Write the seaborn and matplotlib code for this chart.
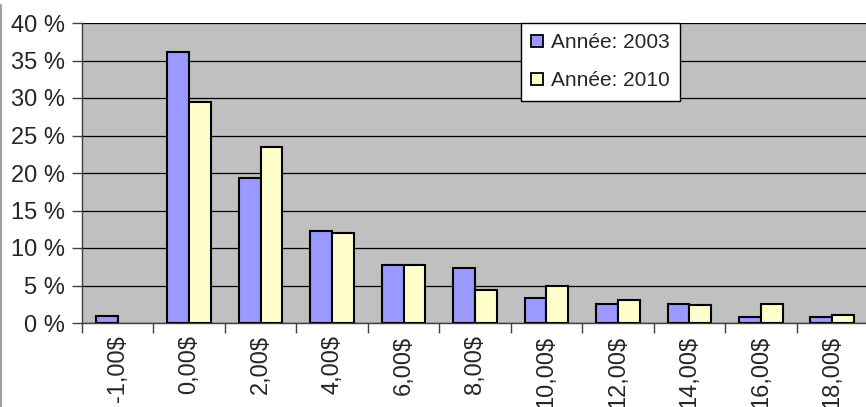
import numpy as np
import pandas as pd
import seaborn as sns
from matplotlib import pyplot as plt
from matplotlib.lines import Line2D
from matplotlib.ticker import FixedLocator, FuncFormatter

# Chart data (percent of respondents per price bucket)
categories = ["-1,00$", "0,00$", "2,00$", "4,00$", "6,00$", "8,00$",
              "10,00$", "12,00$", "14,00$", "16,00$", "18,00$"]
values_2003 = [1.0, 36.1, 19.3, 12.3, 7.8, 7.3, 3.4, 2.6, 2.6, 0.75, 0.75]
values_2010 = [0.0, 29.5, 23.5, 12.0, 7.8, 4.4, 5.0, 3.1, 2.35, 2.6, 1.05]
series_names = ["Année: 2003", "Année: 2010"]
y_ticks = [0, 5, 10, 15, 20, 25, 30, 35, 40]

df = pd.DataFrame({
    "cat": categories * 2,
    "val": values_2003 + values_2010,
    "serie": [series_names[0]] * len(categories) + [series_names[1]] * len(categories),
})

sns.set_style("white")
plt.rcParams['font.family'] = ['Liberation Sans', 'DejaVu Sans']

fig = plt.figure(figsize=(8.66, 4.07), dpi=100)
ax = fig.add_axes([82 / 866, (407 - 323) / 407, 786 / 866, 300 / 407])
ax.set_facecolor("#C0C0C0")

sns.barplot(data=df, x="cat", y="val", hue="serie", order=categories,
            hue_order=series_names, palette=["#9999FF", "#FFFFCC"],
            width=0.61, gap=0, edgecolor="black", linewidth=1.5,
            saturation=1, ax=ax, zorder=3)

# Excel draws nothing for an empty bar
for p in ax.patches:
    if p.get_height() == 0:
        p.set_linewidth(0)

ax.set_xlim(-0.5, len(categories) - 0.5)
ax.set_ylim(0, 40)
ax.yaxis.set_major_locator(FixedLocator(y_ticks))
ax.yaxis.set_major_formatter(FuncFormatter(lambda v, p: f"{int(v)} %"))
ax.grid(axis="y", color="black", linewidth=0.9, zorder=1)
ax.set_axisbelow(True)
ax.set_xlabel("")
ax.set_ylabel("")

# labels centred on categories, tick marks between them
ax.tick_params(axis="x", which="major", length=0, labelsize=17, rotation=90, pad=9)
ax.xaxis.set_minor_locator(FixedLocator(np.arange(-0.5, len(categories), 1.0)))
ax.tick_params(axis="x", which="minor", direction="out", length=7, width=1, color="#404040", bottom=True)
ax.tick_params(axis="y", which="major", direction="out", length=7, width=1, color="#404040",
               labelsize=17, left=True, pad=5)

for side in ["top", "right"]:
    ax.spines[side].set_visible(False)
ax.spines["left"].set_color("#404040")
ax.spines["bottom"].set_color("#404040")
ax.spines["left"].set_linewidth(1)
ax.spines["bottom"].set_linewidth(1)

handles, labels = ax.get_legend_handles_labels()
leg = ax.legend(handles, labels, loc="upper left", bbox_to_anchor=(439 / 786, 1.0),
                frameon=True, fancybox=False, edgecolor="black", framealpha=1,
                fontsize=15, handlelength=0.55, handleheight=0.55, handletextpad=0.4,
                labelspacing=0.9, borderpad=0.5, borderaxespad=0)
leg.get_frame().set_linewidth(1)
for h in leg.legend_handles:
    h.set_edgecolor("black")
    h.set_linewidth(1.3)

# thin grey frame line on the left edge
fig.add_artist(Line2D([0.5 / 866, 0.5 / 866], [0, 402 / 407], transform=fig.transFigure,
                      color="#A0A0A0", linewidth=1.5))

fig.savefig("out.png", dpi=100)
